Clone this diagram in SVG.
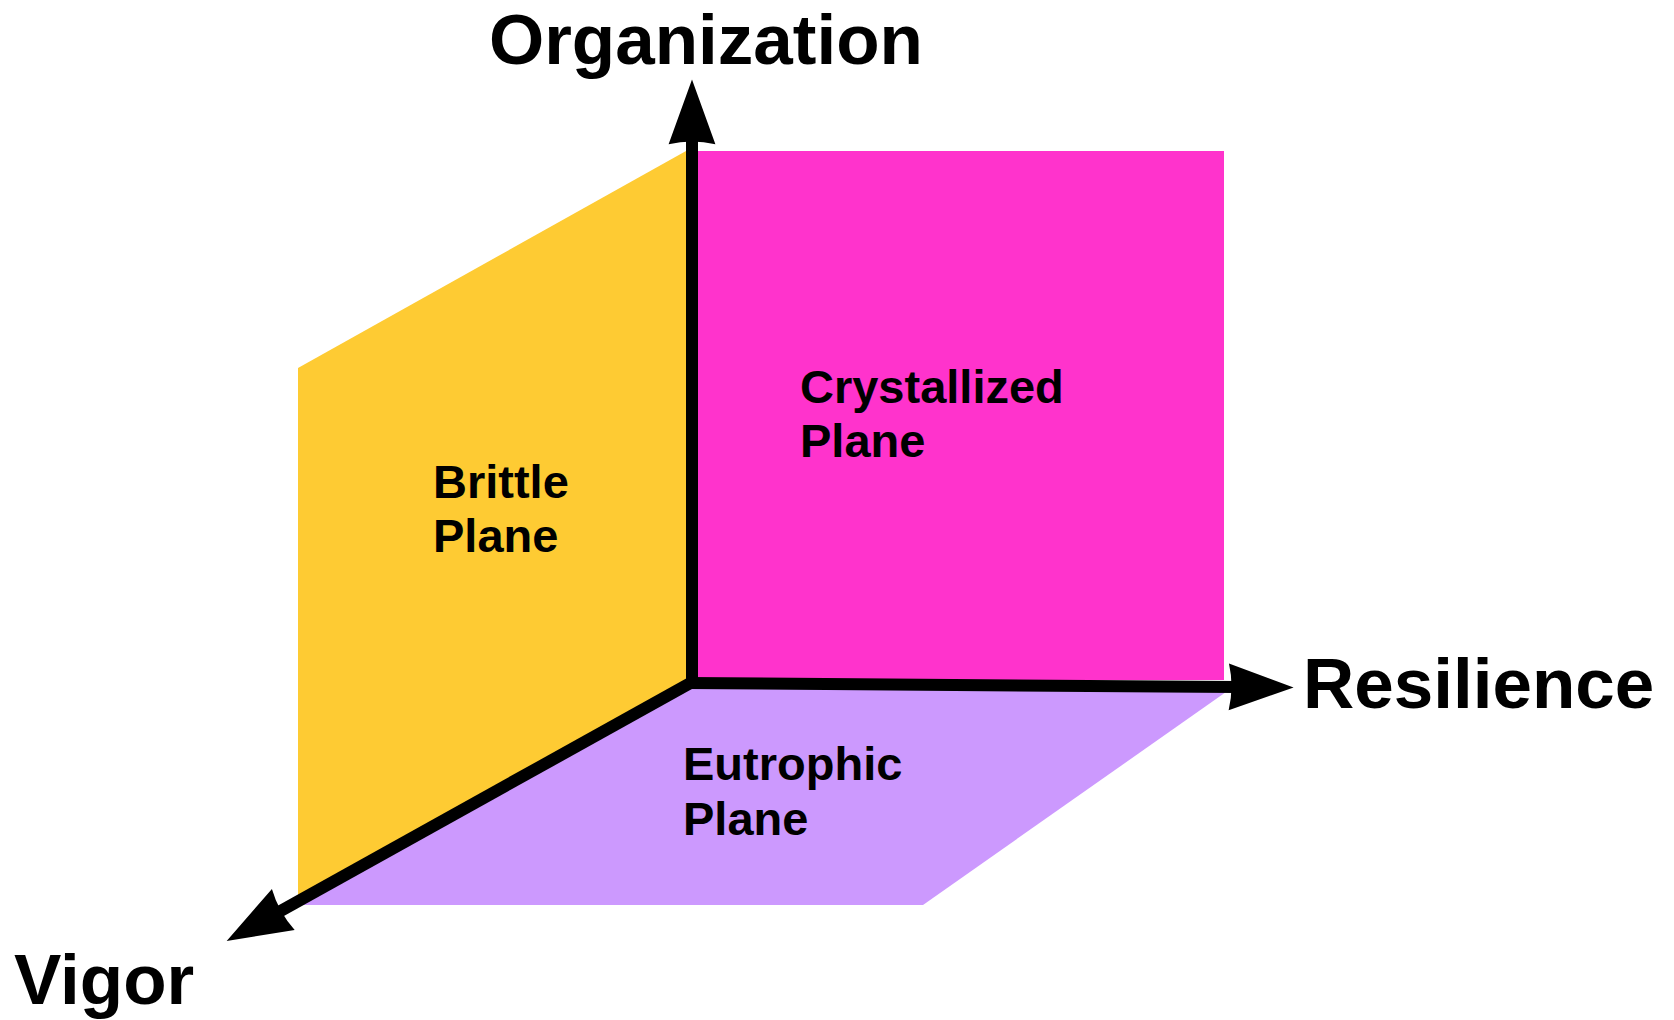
<svg xmlns="http://www.w3.org/2000/svg" width="1674" height="1020" viewBox="0 0 1674 1020">
<style>
.axis{stroke:#000;stroke-width:12;fill:none}
.ax-label{font-family:"Liberation Sans",Arial,sans-serif;font-weight:bold;font-size:71px;fill:#000}
.plane-label{font-family:"Liberation Sans",Arial,sans-serif;font-weight:bold;font-size:47px;fill:#000}
</style>
<defs>
<marker id="arrow" markerUnits="userSpaceOnUse" markerWidth="90" markerHeight="64" viewBox="-10 -32 100 64" refX="8" refY="0" orient="auto">
<path d="M0,-26 L72,0 L0,26 Q6,0 0,-26 Z" fill="#000"/>
</marker>
</defs>
<rect width="1674" height="1020" fill="#fff"/>
<g id="brittle-plane">
<polygon points="298,368 686,151 692,682 298,902" fill="#fecb33"/>
<text class="plane-label" x="433" y="498">Brittle</text>
<text class="plane-label" x="433" y="552">Plane</text>
</g>
<g id="crystallized-plane">
<rect x="698" y="151" width="526" height="529" fill="#ff33cc"/>
<text class="plane-label" x="800" y="403">Crystallized</text>
<text class="plane-label" x="800" y="457">Plane</text>
</g>
<g id="eutrophic-plane">
<polygon points="692,682 1226,692 923,905 292,905" fill="#cc99fe"/>
<text class="plane-label" x="683" y="780">Eutrophic</text>
<text class="plane-label" x="683" y="835">Plane</text>
</g>
<g id="connectors">
<line class="axis" x1="692" y1="688" x2="692" y2="137" marker-end="url(#arrow)"/>
<line class="axis" x1="687" y1="683" x2="1236" y2="687" marker-end="url(#arrow)"/>
<line class="axis" x1="694" y1="681" x2="277" y2="913" marker-end="url(#arrow)"/>
</g>
<g id="organization-label"><text class="ax-label" x="489" y="64">Organization</text></g>
<g id="resilience-label"><text class="ax-label" x="1303" y="708">Resilience</text></g>
<g id="vigor-label"><text class="ax-label" x="14" y="1004">Vigor</text></g>
</svg>
